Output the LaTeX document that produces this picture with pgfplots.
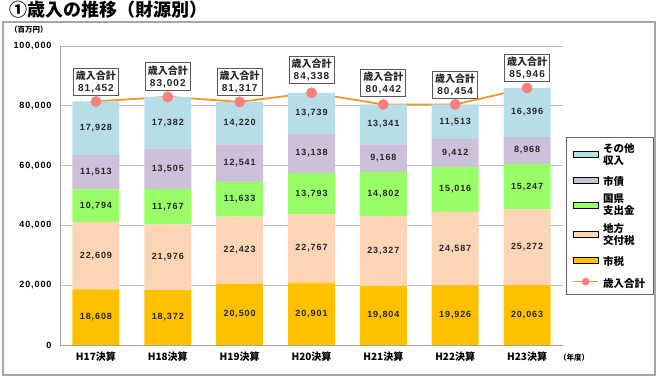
\documentclass[border=0pt]{standalone}
\usepackage{fontspec}
\setmainfont{Liberation Sans}
\newfontfamily\jp{Noto Sans CJK JP}
\newfontfamily\numf{Liberation Sans}[LetterSpace=10]
\usepackage{pgfplots}
\usepackage{pgfplotstable}
\pgfplotsset{compat=1.18}
\definecolor{cshi}{RGB}{255,192,0}
\definecolor{cchi}{RGB}{252,213,181}
\definecolor{ckoku}{RGB}{153,255,102}
\definecolor{csai}{RGB}{204,192,218}
\definecolor{csono}{RGB}{183,222,232}
\definecolor{cline}{RGB}{247,150,40}
\definecolor{cmark}{RGB}{250,128,128}
\definecolor{cgrid}{RGB}{191,191,191}
\definecolor{cframe}{RGB}{166,166,166}

\pgfplotstableread{
x shi chi koku sai sono tot ly
0 18608 22609 10794 11513 17928 81452 88100
1 18372 21976 11767 13505 17382 83002 89800
2 20500 22423 11633 12541 14220 81317 88100
3 20901 22767 13793 13138 13739 84338 92000
4 19804 23327 14802 9168 13341 80442 87600
5 19926 24587 15016 9412 11513 80454 87100
6 20063 25272 15247 8968 16396 85946 92800
}\datatable

\pgfplotsset{
  barlab/.style={
    nodes near coords,
    every node near coord/.style={anchor=center,
      font=\numf\bfseries\fontsize{9}{10}\selectfont, text=black!85},
  },
  barleg/.style={legend image code/.code={\fill[##1] (0pt,-3pt) rectangle (25pt,3pt);}},
  lineleg/.style={legend image code/.code={\draw[mark repeat=2,mark phase=2,##1,sharp plot] plot coordinates {(0pt,0pt) (12.5pt,0pt) (25pt,0pt)};}},
}
\newcommand{\ls}{\rule[-5.5pt]{0pt}{18.5pt}}

\begin{document}
\begin{tikzpicture}
\begin{axis}[
  scale only axis, width=503pt, height=299pt,
  ybar stacked, bar width=47pt,
  xmin=-0.5, xmax=6.5, ymin=0, ymax=100000,
  xtick={0,...,6},
  xticklabels={H17決算,H18決算,H19決算,H20決算,H21決算,H22決算,H23決算},
  ytick={0,20000,40000,60000,80000,100000},
  scaled y ticks=false,
  major tick length=0pt,
  axis x line*=bottom, axis y line*=left,
  axis line style={cgrid!85!black, line width=0.8pt},
  ymajorgrids, grid style={cgrid, line width=0.9pt},
  xticklabel style={font=\jp\bfseries\fontsize{10}{12}\selectfont, yshift=-3pt},
  yticklabel style={font=\numf\bfseries\fontsize{9}{10}\selectfont, xshift=-5pt},
  clip=false,
  legend style={at={(1.006,0.696)}, anchor=north west, draw=black!60, line width=0.8pt,
    font=\jp\bfseries\fontsize{10.5}{12}\selectfont, row sep=3pt, column sep=2pt,
    inner xsep=6pt, inner ysep=4pt, cells={align=left}},
  legend cell align=left,
  /pgf/number format/fixed,
  /pgf/number format/precision=0,
  /pgf/number format/1000 sep={,},
  /pgf/number format/assume math mode=true,
]
\addlegendimage{barleg, fill=csono}
\addlegendentry{その他\\収入}
\addlegendimage{barleg, fill=csai}
\addlegendentry{\ls 市債}
\addlegendimage{barleg, fill=ckoku}
\addlegendentry{国県\\支出金}
\addlegendimage{barleg, fill=cchi}
\addlegendentry{地方\\交付税}
\addlegendimage{barleg, fill=cshi}
\addlegendentry{\ls 市税}
\addlegendimage{lineleg, cline, line width=1.6pt, mark=*, mark size=3pt, mark options={fill=cmark, draw=cmark}}
\addlegendentry{\ls 歳入合計}

\addplot[fill=cshi, draw=none, forget plot, barlab] table[x=x,y=shi]{\datatable};
\addplot[fill=cchi, draw=none, forget plot, barlab] table[x=x,y=chi]{\datatable};
\addplot[fill=ckoku, draw=none, forget plot, barlab] table[x=x,y=koku]{\datatable};
\addplot[fill=csai, draw=none, forget plot, barlab] table[x=x,y=sai]{\datatable};
\addplot[fill=csono, draw=none, forget plot, barlab] table[x=x,y=sono]{\datatable};

\addplot[stack plots=false, sharp plot, forget plot, cline, line width=1.8pt, mark=*, mark size=4.5pt,
  mark options={fill=cmark, draw=cmark}] table[x=x,y=tot]{\datatable};

\addplot[stack plots=false, sharp plot, forget plot, draw=none, mark=none,
  point meta=explicit,
  visualization depends on={\thisrow{ly}/2 \as \hly},
  nodes near coords={{\jp 歳入合計}\\{\numf\pgfmathprintnumber{\pgfplotspointmeta}}},
  every node near coord/.style={anchor=center, align=center, draw=black!65, line width=0.9pt,
    fill=white, font=\bfseries\fontsize{10}{12}\selectfont, inner sep=2.5pt, text=black!85,
    shift={(axis direction cs:0,\hly)}}]
  table[x=x,y=ly,meta=tot]{\datatable};
\end{axis}
\draw[cframe, line width=1.2pt] (-57pt,-30pt) rectangle (595pt,323pt);
\node[anchor=west, inner sep=0pt, font=\jp\bfseries\fontsize{18}{20}\selectfont] at (-51pt,335pt) {①歳入の推移（財源別）};
\node[anchor=west, inner sep=0pt, font=\jp\bfseries\fontsize{7.5}{9}\selectfont] at (-50pt,315pt) {（百万円）};
\node[anchor=west, inner sep=0pt, font=\jp\bfseries\fontsize{7.5}{9}\selectfont] at (499pt,-13pt) {（年度）};
\path (-60pt,-32pt) rectangle (598pt,345pt);
\end{tikzpicture}
\end{document}
